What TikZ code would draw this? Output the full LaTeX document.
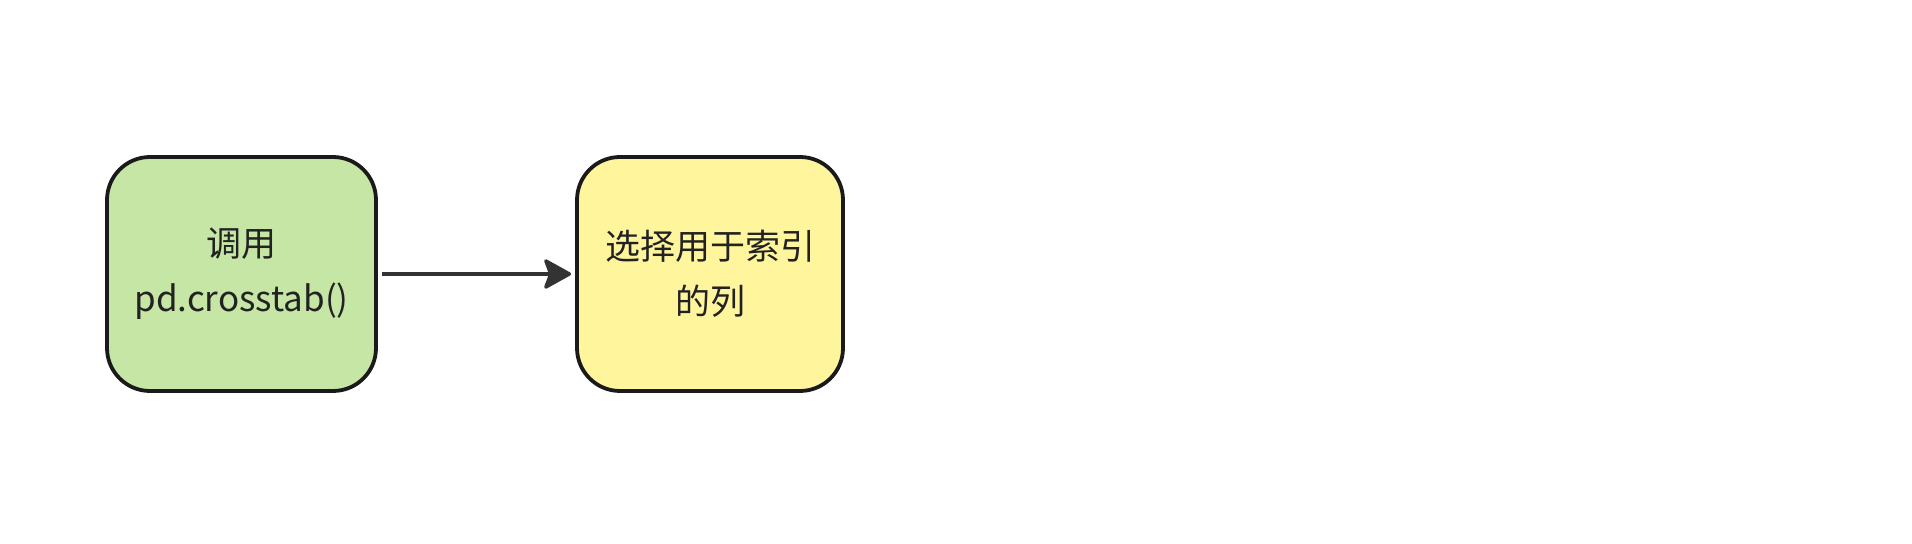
\documentclass[tikz,border=0pt]{standalone}
\usepackage{fontspec}
\setmainfont{Noto Sans CJK SC}
\usetikzlibrary{arrows.meta}
\definecolor{boxgreen}{HTML}{C6E6A6}
\definecolor{boxyellow}{HTML}{FFF59D}
\definecolor{edgeblack}{HTML}{1A1A1A}
\definecolor{arrowgray}{HTML}{333333}
\definecolor{textdark}{HTML}{222222}
\begin{document}
\begin{tikzpicture}[x=0.5pt,y=-0.5pt,
  flowbox/.style={draw=edgeblack, line width=1.9pt, rounded corners=21.5pt,
    minimum width=134.5pt, minimum height=117pt, inner sep=0pt, align=center,
    text=textdark, font=\fontsize{17.5pt}{27.5pt}\selectfont},
  flowarrow/.style={draw=arrowgray, line width=1.7pt,
    -{Stealth[length=15pt,width=16.5pt,inset=3pt,round]}, shorten <=2pt, shorten >=2pt}]
\useasboundingbox[fill=white] (0,0) rectangle (1912,544);
\node[flowbox, fill=boxgreen] (call) at (241.5,274) {调用\\pd.crosstab()};
\node[flowbox, fill=boxyellow, minimum width=133pt] (select) at (710,274) {选择用于索引\\的列};
\draw[flowarrow] (call.east) -- (select.west);
\end{tikzpicture}
\end{document}
